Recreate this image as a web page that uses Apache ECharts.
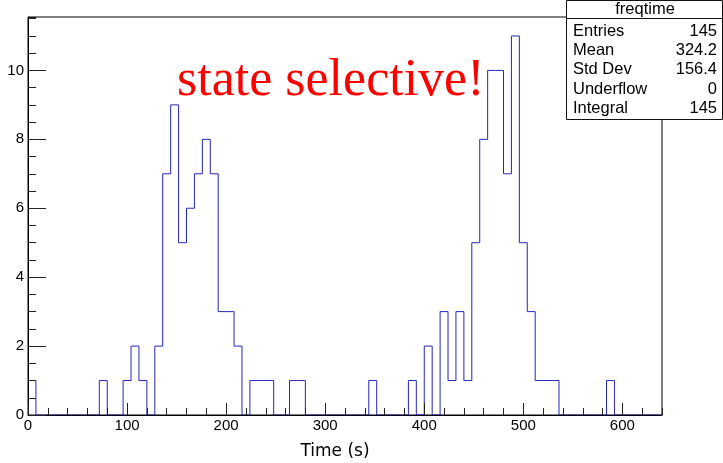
<!DOCTYPE html>
<html>
<head>
<meta charset="utf-8">
<script src="https://cdn.jsdelivr.net/npm/echarts@6/dist/echarts.min.js"></script>
<style>
  html, body { margin: 0; padding: 0; background: #fff; }
  #chart { width: 723px; height: 463px; }
</style>
</head>
<body>
<div id="chart"></div>
<script>
// freqtime histogram: counts per 8 s bin over 0–640 s
const xMin = 0;
const xMax = 640;
const binWidth = 8;
const counts = [
  1, 0, 0, 0, 0, 0, 0, 0, 0, 1,     //   0–80
  0, 0, 1, 2, 1, 0, 2, 7, 9, 5,     //  80–160
  6, 7, 8, 7, 3, 3, 2, 0, 1, 1,     // 160–240
  1, 0, 0, 1, 1, 0, 0, 0, 0, 0,     // 240–320
  0, 0, 0, 1, 0, 0, 0, 0, 1, 0,     // 320–400
  2, 0, 3, 1, 3, 1, 5, 8, 10, 10,   // 400–480
  7, 11, 5, 3, 1, 1, 1, 0, 0, 0,    // 480–560
  0, 0, 0, 1, 0, 0, 0, 0, 0, 0      // 560–640
];
const yMax = 11.55;

// statistics box
const statsTitle = 'freqtime';
const statsNames = ['Entries', 'Mean', 'Std Dev', 'Underflow', 'Integral'];
const statsValues = ['145', '324.2', '156.4', '0', '145'];

const annotation = 'state selective!';
const xTitle = 'Time (s)';

// step outline: one point per bin's left edge, plus the closing right edge
const outline = counts.map((c, i) => [xMin + i * binWidth, c]);
outline.push([xMax, counts[counts.length - 1]]);

const sans = 'Liberation Sans, Arial, Helvetica, sans-serif';
const tickColor = '#222';
const statsFont = '16.5px ' + sans;

const chart = echarts.init(document.getElementById('chart'), null, { renderer: 'canvas' });

const statsGraphics = [];
statsGraphics.push({
  type: 'rect', z: 20,
  shape: { x: 566.5, y: 0.5, width: 156, height: 119 },
  style: { fill: '#fff', stroke: '#111', lineWidth: 1 }
});
statsGraphics.push({
  type: 'line', z: 21,
  shape: { x1: 566.5, y1: 18.5, x2: 722.5, y2: 18.5 },
  style: { stroke: '#111', lineWidth: 1 }
});
statsGraphics.push({
  type: 'text', z: 21,
  style: { text: statsTitle, x: 645, y: 9.5, font: statsFont, fill: '#000',
           textAlign: 'center', textVerticalAlign: 'middle' }
});
statsNames.forEach((name, i) => {
  const y = 31.5 + i * 19.2;
  statsGraphics.push({
    type: 'text', z: 21,
    style: { text: name, x: 573, y: y, font: statsFont, fill: '#000',
             textAlign: 'left', textVerticalAlign: 'middle' }
  });
  statsGraphics.push({
    type: 'text', z: 21,
    style: { text: statsValues[i], x: 717, y: y, font: statsFont, fill: '#000',
             textAlign: 'right', textVerticalAlign: 'middle' }
  });
});

const option = {
  animation: false,
  backgroundColor: '#fff',
  grid: {
    left: 28, right: 61, top: 17, bottom: 48,
    show: true, borderColor: '#000', borderWidth: 1, backgroundColor: 'transparent'
  },
  xAxis: [
    {
      type: 'value', min: xMin, max: xMax, interval: 100, position: 'bottom', z: 5,
      axisLine: { show: true, lineStyle: { color: '#000', width: 1 } },
      axisTick: { show: true, inside: true, length: 12, lineStyle: { color: tickColor } },
      axisLabel: { show: true, margin: 3, fontFamily: sans, fontSize: 15, color: '#000',
                   showMaxLabel: false },
      splitLine: { show: false }
    },
    {
      type: 'value', min: xMin, max: xMax, interval: 20, position: 'bottom', z: 5,
      axisLine: { show: false },
      axisTick: { show: true, inside: true, length: 7, lineStyle: { color: tickColor } },
      axisLabel: { show: false },
      splitLine: { show: false }
    }
  ],
  yAxis: [
    {
      type: 'value', min: 0, max: yMax, interval: 2, position: 'left', z: 5,
      axisLine: { show: true, lineStyle: { color: '#000', width: 1 } },
      axisTick: { show: true, inside: true, length: 18, lineStyle: { color: tickColor } },
      axisLabel: { show: true, margin: 4, fontFamily: sans, fontSize: 15, color: '#000',
                   showMaxLabel: false },
      splitLine: { show: false }
    },
    {
      type: 'value', min: 0, max: yMax, interval: 0.5, position: 'left', z: 5,
      axisLine: { show: false },
      axisTick: { show: true, inside: true, length: 8, lineStyle: { color: tickColor } },
      axisLabel: { show: false },
      splitLine: { show: false }
    }
  ],
  series: [
    {
      name: 'freqtime',
      type: 'line',
      xAxisIndex: 0, yAxisIndex: 0,
      step: 'end',
      showSymbol: false,
      symbol: 'none',
      data: outline,
      lineStyle: { color: '#2626bb', width: 1 },
      z: 2
    }
  ],
  graphic: [
    {
      type: 'text', z: 10,
      style: { text: annotation, x: 177, y: 81, font: '52px "Liberation Serif", "Times New Roman", serif',
               fill: '#ff0000', textAlign: 'left', textVerticalAlign: 'middle' }
    },
    {
      type: 'text', z: 10,
      style: { text: xTitle, x: 335, y: 452, font: '17px "DejaVu Sans", sans-serif',
               fill: '#000', textAlign: 'center', textVerticalAlign: 'middle' }
    }
  ].concat(statsGraphics)
};

chart.setOption(option);
</script>
</body>
</html>
